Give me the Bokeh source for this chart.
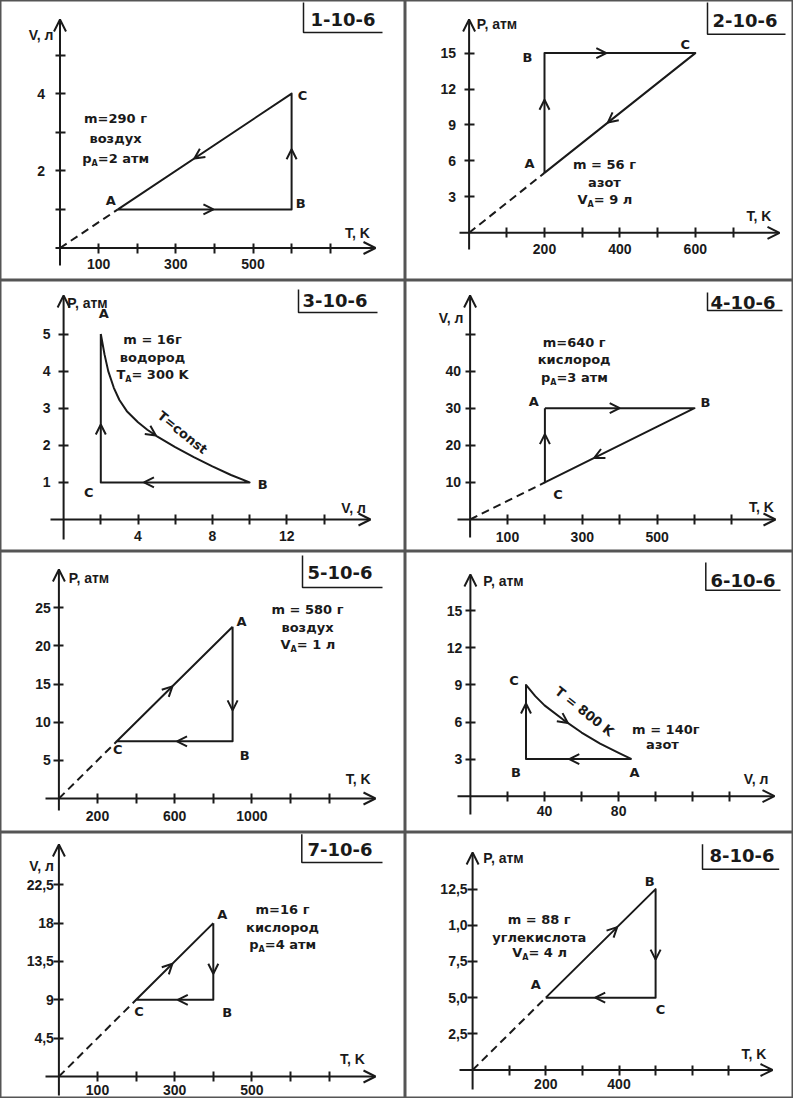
import numpy as np
from bokeh.plotting import figure
from bokeh.models import Range1d, LinearAxis, FixedTicker, Arrow, OpenHead
from bokeh.layouts import gridplot
from bokeh.core.properties import value
from bokeh.embed import file_html
from bokeh.resources import INLINE

FONT = "DejaVu Sans"
TICK_FONT = "Liberation Sans"
INK = "#1a1a1a"

# ---------------- DATA ----------------
point_names = ["A", "B", "C"]

# 1-10-6  V(T)
p1_title = "1-10-6"
p1_T = [150, 600, 600]
p1_V = [1, 1, 4]
p1_xname, p1_yname = "T, K", "V, л"
p1_xticks = [100, 200, 300, 400, 500, 600, 700]
p1_xticklabels = ["100", "", "300", "", "500", "", ""]
p1_yticks = [1, 2, 3, 4, 5]
p1_yticklabels = ["", "2", "", "4", ""]
p1_notes = ["m=290 г", "воздух", "p_A=2 атм"]

# 2-10-6  P(T)
p2_title = "2-10-6"
p2_T = [200, 200, 600]
p2_P = [5, 15, 15]
p2_xname, p2_yname = "T, K", "P, атм"
p2_xticks = [100, 200, 300, 400, 500, 600, 700]
p2_xticklabels = ["", "200", "", "400", "", "600", ""]
p2_yticks = [3, 6, 9, 12, 15]
p2_yticklabels = ["3", "6", "9", "12", "15"]
p2_notes = ["m = 56 г", "азот", "V_A= 9 л"]

# 3-10-6  P(V)
p3_title = "3-10-6"
p3_V = [2, 10, 2]
p3_P = [5, 1, 1]
p3_curve_V = [2, 2.2, 2.4, 2.7, 3.0, 3.4, 4.0, 4.5, 5.0, 6.0, 7.0, 8.0, 9.0, 10]
p3_curve_P = [5.0, 4.45, 4.0, 3.55, 3.22, 2.92, 2.62, 2.42, 2.25, 1.95, 1.68, 1.43, 1.2, 1.0]
p3_curve_label = "T=const"
p3_xname, p3_yname = "V, л", "P, атм"
p3_xticks = [2, 4, 6, 8, 10, 12, 14]
p3_xticklabels = ["", "4", "", "8", "", "12", ""]
p3_yticks = [1, 2, 3, 4, 5]
p3_yticklabels = ["1", "2", "3", "4", "5"]
p3_notes = ["m = 16г", "водород", "T_A= 300 K"]

# 4-10-6  V(T)
p4_title = "4-10-6"
p4_T = [200, 600, 200]
p4_V = [30, 30, 10]
p4_xname, p4_yname = "T, K", "V, л"
p4_xticks = [100, 200, 300, 400, 500, 600, 700]
p4_xticklabels = ["100", "", "300", "", "500", "", ""]
p4_yticks = [10, 20, 30, 40, 50]
p4_yticklabels = ["10", "20", "30", "40", ""]
p4_notes = ["m=640 г", "кислород", "p_A=3 атм"]

# 5-10-6  P(T)
p5_title = "5-10-6"
p5_T = [900, 900, 300]
p5_P = [22.5, 7.5, 7.5]
p5_xname, p5_yname = "T, K", "P, атм"
p5_xticks = [200, 400, 600, 800, 1000, 1200, 1400]
p5_xticklabels = ["200", "", "600", "", "1000", "", ""]
p5_yticks = [5, 10, 15, 20, 25]
p5_yticklabels = ["5", "10", "15", "20", "25"]
p5_notes = ["m = 580 г", "воздух", "V_A= 1 л"]

# 6-10-6  P(V)
p6_title = "6-10-6"
p6_V = [87, 30, 30]
p6_P = [3, 3, 9]
p6_curve_V = [30, 35, 40, 50, 60, 70, 80, 87]
p6_curve_P = [9.0, 8.1, 7.35, 6.2, 5.15, 4.25, 3.5, 3.0]
p6_curve_label = "T = 800 K"
p6_xname, p6_yname = "V, л", "P, атм"
p6_xticks = [20, 40, 60, 80, 100, 120, 140]
p6_xticklabels = ["", "40", "", "80", "", "", ""]
p6_yticks = [3, 6, 9, 12, 15]
p6_yticklabels = ["3", "6", "9", "12", "15"]
p6_notes = ["m = 140г", "азот"]

# 7-10-6  V(T)
p7_title = "7-10-6"
p7_T = [400, 400, 200]
p7_V = [18, 9, 9]
p7_xname, p7_yname = "T, K", "V, л"
p7_xticks = [100, 200, 300, 400, 500, 600, 700]
p7_xticklabels = ["100", "", "300", "", "500", "", ""]
p7_yticks = [4.5, 9, 13.5, 18, 22.5]
p7_yticklabels = ["4,5", "9", "13,5", "18", "22,5"]
p7_notes = ["m=16 г", "кислород", "p_A=4 атм"]

# 8-10-6  P(T)
p8_title = "8-10-6"
p8_T = [200, 500, 500]
p8_P = [5, 12.5, 5]
p8_xname, p8_yname = "T, K", "P, атм"
p8_xticks = [100, 200, 300, 400, 500, 600, 700]
p8_xticklabels = ["", "200", "", "400", "", "", ""]
p8_yticks = [2.5, 5, 7.5, 10, 12.5]
p8_yticklabels = ["2,5", "5,0", "7,5", "1,0", "12,5"]
p8_notes = ["m = 88 г", "углекислота", "V_A= 4 л"]

panels = [
    dict(title=p1_title, x=p1_T, y=p1_V, xname=p1_xname, yname=p1_yname, xticks=p1_xticks,
         xticklabels=p1_xticklabels, yticks=p1_yticks, yticklabels=p1_yticklabels, notes=p1_notes,
         origin_to=0, curve_seg=None),
    dict(title=p2_title, x=p2_T, y=p2_P, xname=p2_xname, yname=p2_yname, xticks=p2_xticks,
         xticklabels=p2_xticklabels, yticks=p2_yticks, yticklabels=p2_yticklabels, notes=p2_notes,
         origin_to=0, curve_seg=None),
    dict(title=p3_title, x=p3_V, y=p3_P, xname=p3_xname, yname=p3_yname, xticks=p3_xticks,
         xticklabels=p3_xticklabels, yticks=p3_yticks, yticklabels=p3_yticklabels, notes=p3_notes,
         origin_to=None, curve_seg=0, curve_x=p3_curve_V, curve_y=p3_curve_P, curve_label=p3_curve_label),
    dict(title=p4_title, x=p4_T, y=p4_V, xname=p4_xname, yname=p4_yname, xticks=p4_xticks,
         xticklabels=p4_xticklabels, yticks=p4_yticks, yticklabels=p4_yticklabels, notes=p4_notes,
         origin_to=2, curve_seg=None),
    dict(title=p5_title, x=p5_T, y=p5_P, xname=p5_xname, yname=p5_yname, xticks=p5_xticks,
         xticklabels=p5_xticklabels, yticks=p5_yticks, yticklabels=p5_yticklabels, notes=p5_notes,
         origin_to=2, curve_seg=None),
    dict(title=p6_title, x=p6_V, y=p6_P, xname=p6_xname, yname=p6_yname, xticks=p6_xticks,
         xticklabels=p6_xticklabels, yticks=p6_yticks, yticklabels=p6_yticklabels, notes=p6_notes,
         origin_to=None, curve_seg=2, curve_x=p6_curve_V, curve_y=p6_curve_P, curve_label=p6_curve_label),
    dict(title=p7_title, x=p7_T, y=p7_V, xname=p7_xname, yname=p7_yname, xticks=p7_xticks,
         xticklabels=p7_xticklabels, yticks=p7_yticks, yticklabels=p7_yticklabels, notes=p7_notes,
         origin_to=2, curve_seg=None),
    dict(title=p8_title, x=p8_T, y=p8_P, xname=p8_xname, yname=p8_yname, xticks=p8_xticks,
         xticklabels=p8_xticklabels, yticks=p8_yticks, yticklabels=p8_yticklabels, notes=p8_notes,
         origin_to=0, curve_seg=None),
]

# ---------------- LAYOUT / STYLE (page pixels) ----------------
layouts = [
    dict(frame=(8, 8, 413, 288), map=(67.5, 0.386, 255.5, 38.6), xaxis=(63, 383), yaxis=(273, 27),
         xstand=6, ystand=10, xname_at=(365, 240), yname_at=(48.5, 42), title_at=(318, 26.5),
         bracket=(311, 10, 40, 390), notes_x=[123, 123, 123], notes_y=[126, 146, 166],
         loff=[(-7, -9), (9, -6), (11, 2)], arrow_t=[0.55, 0.52, 0.56]),
    dict(frame=(413, 8, 801, 288), map=(476.6, 0.377, 240.3, 11.98), xaxis=(467, 787), yaxis=(257, 27),
         xstand=6, ystand=8, xname_at=(766.5, 223), yname_at=(504.5, 31.7), title_at=(720, 27.5),
         bracket=(715, 10, 41.7, 793), notes_x=[612, 612, 612], notes_y=[171.7, 190, 206.7],
         loff=[(-15, -9), (-17, 4), (-10, -9)], arrow_t=[0.61, 0.41, 0.58]),
    dict(frame=(8, 288, 413, 559), map=(71.1, 18.6, 527, 37.1), xaxis=(58, 378), yaxis=(547, 303),
         xstand=6, ystand=8, xname_at=(361, 515), yname_at=(95, 310), title_at=(310, 308.3),
         bracket=(306, 297, 320, 385), notes_x=[160, 160, 160], notes_y=[346.7, 365, 381.7],
         loff=[(3, -21), (13, 2), (-12, 10)], arrow_t=[4.96, 0.71, 0.39],
         curve_label_at=(190, 440, -0.68)),
    dict(frame=(413, 288, 801, 559), map=(477.6, 0.374, 527, 3.71), xaxis=(465, 783), yaxis=(545, 303),
         xstand=7, ystand=4, xname_at=(769, 514), yname_at=(458.5, 325), title_at=(718, 310),
         bracket=(715, 300, 318, 790), notes_x=[581.7, 581.7, 581.7], notes_y=[350, 366.7, 385],
         loff=[(-11, -7), (11, -6), (13, 12)], arrow_t=[0.5, 0.67, 0.65]),
    dict(frame=(8, 559, 413, 840), map=(66.4, 0.193, 806, 7.63), xaxis=(53, 383), yaxis=(818, 577),
         xstand=7, ystand=3, xname_at=(365.7, 786.7), yname_at=(96.5, 585), title_at=(315, 580),
         bracket=(310, 563, 595, 390), notes_x=[315, 315, 315], notes_y=[616.7, 635, 651.7],
         loff=[(9, -5), (12, 14), (1, 8)], arrow_t=[0.73, 0.48, 0.48]),
    dict(frame=(413, 559, 801, 840), map=(477.9, 1.853, 803.7, 12.36), xaxis=(465, 782), yaxis=(822, 582),
         xstand=5, ystand=3, xname_at=(763.5, 786.7), yname_at=(511, 588.3), title_at=(718, 588.3),
         bracket=(713.3, 570, 597.7, 788), notes_x=[673.3, 670], notes_y=[736.7, 751.7],
         loff=[(3, 13), (-10, 13), (-12, -4)], arrow_t=[0.59, 0.75, 52.6],
         curve_label_at=(592, 719, -0.67)),
    dict(frame=(8, 840, 413, 1106), map=(66.4, 0.386, 1089, 8.52), xaxis=(53, 383), yaxis=(1108, 857),
         shift=5, xstand=3, ystand=0, xname_at=(360, 1071.7), yname_at=(49, 878.3), title_at=(315, 861.7),
         bracket=(309.3, 846.7, 875, 390), notes_x=[290, 290, 290], notes_y=[921.7, 940, 956.7],
         loff=[(9, -9), (14, 13), (3, 12)], arrow_t=[0.66, 0.46, 0.47]),
    dict(frame=(413, 840, 801, 1106), map=(480.1, 0.366, 1082.5, 14.47), xaxis=(467, 780), yaxis=(1102, 865),
         shift=5, xstand=4, ystand=0, xname_at=(761.5, 1066.7), yname_at=(511, 870), title_at=(717, 868.3),
         bracket=(710, 856.7, 881.7, 786.7), notes_x=[546.7, 546.7, 546.7], notes_y=[931.7, 950, 965],
         loff=[(-10, -13), (-6, -8), (5, 12)], arrow_t=[0.65, 0.65, 0.55]),
]

# approximate advance widths (em) of DejaVu Sans Bold, for placing subscripts
EM = {" ": 0.348, "=": 0.838, "m": 1.042, "p": 0.716, "V": 0.774, "T": 0.682, "K": 0.775,
      "A": 0.774, ",": 0.38, "-": 0.415}
for c in "0123456789":
    EM[c] = 0.696


def w_est(s, size):
    return sum(EM.get(ch, 0.68) for ch in s) * size


def build(d, L):
    fl, ft, fr, fb = L["frame"]
    x0p, sx, y0p, sy = L["map"]
    sh = L.get("shift", 0)
    X = lambda px: (px - x0p) / sx
    Y = lambda py: (y0p - py) / sy
    p = figure(width=fr - fl, height=fb - ft,
               x_range=Range1d(X(fl), X(fr)), y_range=Range1d(Y(fb + sh), Y(ft + sh)),
               x_axis_type=None, y_axis_type=None, output_backend="svg",
               toolbar_location=None, min_border=0)
    p.background_fill_color = "white"
    p.border_fill_color = "white"
    p.outline_line_color = "#555555"
    p.outline_line_width = 2

    def txt(xs, ys, texts, size, align="center", angle=0.0, xo=0, yo=0,
            font=FONT, style="bold"):
        p.text(x=xs, y=ys, text=texts, text_font=value(font), text_font_size=size,
               text_font_style=style, text_color=INK, text_align=align,
               text_baseline="middle", angle=angle, x_offset=xo, y_offset=yo)

    def mk_axis(ticks, labels, stand):
        return LinearAxis(fixed_location=0, ticker=FixedTicker(ticks=ticks),
                          major_label_overrides={t: s for t, s in zip(ticks, labels)},
                          axis_line_color=None, major_tick_line_color=INK,
                          major_tick_line_width=2, major_tick_in=5, major_tick_out=5,
                          minor_tick_line_color=None, major_label_text_font=TICK_FONT,
                          major_label_text_font_style="bold",
                          major_label_text_font_size="14px", major_label_text_color=INK,
                          major_label_standoff=stand)

    p.add_layout(mk_axis(d["xticks"], d["xticklabels"], L["xstand"]), "below")
    p.add_layout(mk_axis(d["yticks"], d["yticklabels"], L["ystand"]), "left")

    # axis lines with arrow heads
    p.add_layout(Arrow(end=OpenHead(size=12, line_color=INK, line_width=2),
                       x_start=X(L["xaxis"][0]), y_start=0, x_end=X(L["xaxis"][1]), y_end=0,
                       line_color=INK, line_width=2))
    p.add_layout(Arrow(end=OpenHead(size=12, line_color=INK, line_width=2),
                       x_start=0, y_start=Y(L["yaxis"][0]), x_end=0, y_end=Y(L["yaxis"][1]),
                       line_color=INK, line_width=2))

    xs, ys = d["x"], d["y"]
    # dashed line through the origin
    if d["origin_to"] is not None:
        k = d["origin_to"]
        p.line([0, xs[k]], [0, ys[k]], line_color=INK, line_width=2, line_dash="8 5")

    # cycle path A -> B -> C -> A
    px_, py_ = [xs[0]], [ys[0]]
    for i in range(3):
        j = (i + 1) % 3
        if d["curve_seg"] == i:
            px_ += list(d["curve_x"][1:])
            py_ += list(d["curve_y"][1:])
        else:
            px_.append(xs[j])
            py_.append(ys[j])
    p.line(px_, py_, line_color=INK, line_width=2, line_join="round")

    # direction arrows
    for i in range(3):
        j = (i + 1) % 3
        t = L["arrow_t"][i]
        if d["curve_seg"] == i:
            cx, cy = d["curve_x"], d["curve_y"]
            span = cx[-1] - cx[0]
            xe = t
            ye = float(np.interp(xe, cx, cy))
            xb = t - 0.04 * span
            yb = float(np.interp(xb, cx, cy))
        else:
            xb, yb = xs[i], ys[i]
            xe = xs[i] + t * (xs[j] - xs[i])
            ye = ys[i] + t * (ys[j] - ys[i])
        p.add_layout(Arrow(end=OpenHead(size=10, line_color=INK, line_width=2),
                           x_start=xb, y_start=yb, x_end=xe, y_end=ye, line_alpha=0))

    # point labels
    txt(xs, ys, point_names, "13px",
        xo=[o[0] for o in L["loff"]], yo=[o[1] for o in L["loff"]])

    # curve label
    if d["curve_seg"] is not None:
        cxp, cyp, ang = L["curve_label_at"]
        txt([X(cxp)], [Y(cyp)], [d["curve_label"]], "13px", angle=ang)

    # axis names
    txt([X(L["xname_at"][0])], [Y(L["xname_at"][1])], [d["xname"]], "14px", font=TICK_FONT)
    txt([X(L["yname_at"][0])], [Y(L["yname_at"][1])], [d["yname"]], "14px", font=TICK_FONT)

    # notes block
    for line, nx, ny in zip(d["notes"], L["notes_x"], L["notes_y"]):
        if "_A" in line:
            pre, rest = line.split("_A")
            wp, ws, wr = w_est(pre, 13), w_est("A", 8), w_est(rest, 13)
            left = nx - (wp + ws + wr) / 2
            txt([X(left)], [Y(ny)], [pre], "13px", align="left")
            txt([X(left + wp)], [Y(ny + 5)], ["A"], "8px", align="left")
            txt([X(left + wp + ws)], [Y(ny)], [rest], "13px", align="left")
        else:
            txt([X(nx)], [Y(ny)], [line], "13px")

    # panel title with bracket
    tx, ty = L["title_at"]
    txt([X(tx)], [Y(ty)], [d["title"]], "18px", align="left")
    bx, by1, by2, bx2 = L["bracket"]
    p.line([X(bx), X(bx), X(bx2)], [Y(by1), Y(by2), Y(by2)], line_color=INK, line_width=1.5)
    return p


figs = [build(d, L) for d, L in zip(panels, layouts)]
grid = gridplot([figs[0:2], figs[2:4], figs[4:6], figs[6:8]], toolbar_location=None)

open("out.html", "w").write(file_html(grid, INLINE))
